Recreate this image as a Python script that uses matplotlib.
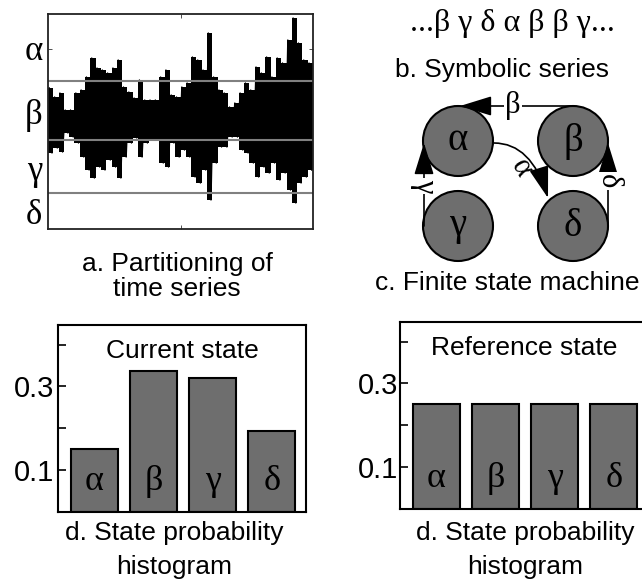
import numpy as np
import matplotlib
matplotlib.use('Agg')
import matplotlib.pyplot as plt
from matplotlib.patches import Circle

W, H = 642, 582
SANS = ['Liberation Sans', 'DejaVu Sans']
SERIF = ['Liberation Serif', 'DejaVu Serif']

# a. time series, upper / lower envelope of each column (signal units)
sig_upper = [3.7, 2.8, 3.2, 1.5, 1.5, 3.2, 3.5, 4.8, 6.7, 5.7,
             5.5, 5.2, 5.7, 6.5, 3.8, 3.3, 2.7, 4.5, 2.5, 2.5,
             2.5, 4.8, 5.5, 3.0, 2.8, 3.8, 4.2, 6.8, 6.5, 5.5,
             9.2, 4.8, 3.5, 3.2, 1.8, 2.2, 3.2, 4.2, 3.5, 5.8,
             5.2, 6.8, 4.8, 6.7, 6.2, 8.5, 10.7, 8.2, 6.5, 6.2]
sig_lower = [-2.8, -2.3, -2.7, -0.8, -1.2, -1.8, -3.2, -4.5, -5.3, -4.2,
             -4.5, -3.5, -4.2, -5.3, -3.2, -1.8, -1.3, -3.2, -1.8, -1.5,
             -1.5, -3.8, -4.2, -1.8, -3.2, -2.5, -3.2, -5.2, -5.8, -4.5,
             -7.5, -3.8, -2.2, -2.2, -1.2, -1.2, -2.5, -2.8, -3.8, -5.2,
             -4.2, -4.8, -3.8, -5.5, -4.8, -6.5, -7.8, -5.8, -5.2, -4.5]
partitions = [4.4, -1.5, -6.8]
symbols = ['α', 'β', 'γ', 'δ']
symbol_levels = [7.7, 1.3, -4.2, -8.7]

# b. symbolic series
sym_series = '...β γ δ α β β γ...'

# d. state probabilities
current_p = [0.15, 0.336, 0.321, 0.193]
reference_p = [0.25, 0.25, 0.25, 0.25]


def frac(l, t, r, b):
    return [l / W, 1 - b / H, (r - l) / W, (b - t) / H]


fig = plt.figure(figsize=(6.42, 5.82), dpi=100)

# overlay in pixel coordinates for diagram + captions
ov = fig.add_axes([0, 0, 1, 1])
ov.set_xlim(0, W)
ov.set_ylim(H, 0)
ov.axis('off')

# ---- a. partitioning of time series
ax = fig.add_axes(frac(48, 14, 313, 229))
x = np.arange(len(sig_upper))
lo = np.array(sig_lower)
hi = np.array(sig_upper)
ax.bar(x, hi - lo, bottom=lo, width=1.0, color='black', linewidth=0)
# thin zigzag through the envelope to rough up the edges
zx = np.repeat(x, 2) + np.tile([-0.25, 0.25], len(x))
zy = np.column_stack([hi, lo]).ravel()
ax.plot(zx, zy, color='black', lw=1.0)
for p in partitions:
    ax.axhline(p, color='#808080', lw=1.5)
ax.set_xlim(-0.5, len(x) - 0.5)
ax.set_ylim(-10.4, 11.1)
ax.set_yticks(symbol_levels)
ax.set_yticklabels(symbols, family=SERIF, fontsize=25)
ax.tick_params(axis='y', length=0, pad=4)
ax.set_xticks([])
ax.set_yticks([7.6], minor=True)
ax.set_xticks([24.5], minor=True)
ax.tick_params(which='minor', direction='in', length=3, left=True, right=True,
               top=True, bottom=True, color='#333333')
for s in ax.spines.values():
    s.set_linewidth(1.3)
    s.set_color('#222222')

ov.text(177, 264, 'a. Partitioning of', ha='center', va='center', family=SANS, fontsize=19)
ov.text(177, 289, 'time series', ha='center', va='center', family=SANS, fontsize=19)

# ---- b. symbolic series
ov.text(512, 24, sym_series, ha='center', va='center', family=SERIF, fontsize=23)
ov.text(502, 70, 'b. Symbolic series', ha='center', va='center', family=SANS, fontsize=19)

# ---- c. finite state machine
nodes = {'α': (458, 141), 'β': (573, 141), 'γ': (458, 226), 'δ': (573, 226)}
r = 35
for name, (cx, cy) in nodes.items():
    ov.add_patch(Circle((cx, cy), r, facecolor='#6e6e6e', edgecolor='black', lw=1.5, zorder=2))
    ov.text(cx, cy, name, ha='center', va='center', family=SERIF, fontsize=28, zorder=3)

head = '-|>,head_length=0.55,head_width=0.17'
aprops = dict(arrowstyle=head, mutation_scale=36, lw=1.2, color='black',
              shrinkA=0, shrinkB=0)
ov.annotate('', xy=(460, 106), xytext=(572, 106), arrowprops=aprops, zorder=4)
ov.annotate('', xy=(424, 143), xytext=(424, 226), arrowprops=aprops, zorder=4)
ov.annotate('', xy=(608, 143), xytext=(608, 226), arrowprops=aprops, zorder=4)
ov.annotate('', xy=(548, 198), xytext=(494, 143),
            arrowprops=dict(aprops, connectionstyle='angle3,angleA=0,angleB=107'), zorder=4)
lbl = dict(ha='center', va='center', family=SERIF, fontsize=22, zorder=5,
           bbox=dict(boxstyle='square,pad=0.05', fc='white', ec='none'))
ov.text(513, 106, 'β', **lbl)
ov.text(425, 186, 'γ', rotation=-90, **lbl)
ov.text(608, 181, 'δ', rotation=-90, **lbl)
ov.text(521, 168, 'α', rotation=-60, ha='center', va='center', family=SERIF,
        fontsize=22, zorder=5)
ov.text(507, 283, 'c. Finite state machine', ha='center', va='center', family=SANS, fontsize=19)


# ---- d. state probability histograms
def hist_panel(rect, probs, title, pad):
    a = fig.add_axes(rect)
    xs = np.arange(len(probs))
    a.bar(xs, probs, width=0.8, color='#6e6e6e', edgecolor='black', lw=1.5)
    for xi, s in zip(xs, symbols):
        a.text(xi, 0.072, s, ha='center', va='center', family=SERIF, fontsize=26)
    a.set_xlim(-0.62, 3.58)
    a.set_ylim(0, 0.447)
    a.set_xticks([])
    a.set_yticks([0.1, 0.3])
    a.set_yticklabels(['0.1', '0.3'], family=SANS, fontsize=21)
    a.set_yticks([0.2, 0.4], minor=True)
    a.tick_params(axis='y', which='both', direction='in', length=6, width=1.2, pad=pad)
    for s in a.spines.values():
        s.set_linewidth(1.5)
    a.text(0.5, 0.86, title, transform=a.transAxes, ha='center', va='center',
           family=SANS, fontsize=19)
    return a


hist_panel(frac(58, 325, 306, 512), current_p, 'Current state', 3)
hist_panel(frac(400, 322, 648, 509), reference_p, 'Reference state', 1)

for cx in (174, 525):
    ov.text(cx, 533, 'd. State probability', ha='center', va='center', family=SANS, fontsize=19)
    ov.text(cx, 567, 'histogram', ha='center', va='center', family=SANS, fontsize=19)

fig.savefig('out.png', dpi=100)
